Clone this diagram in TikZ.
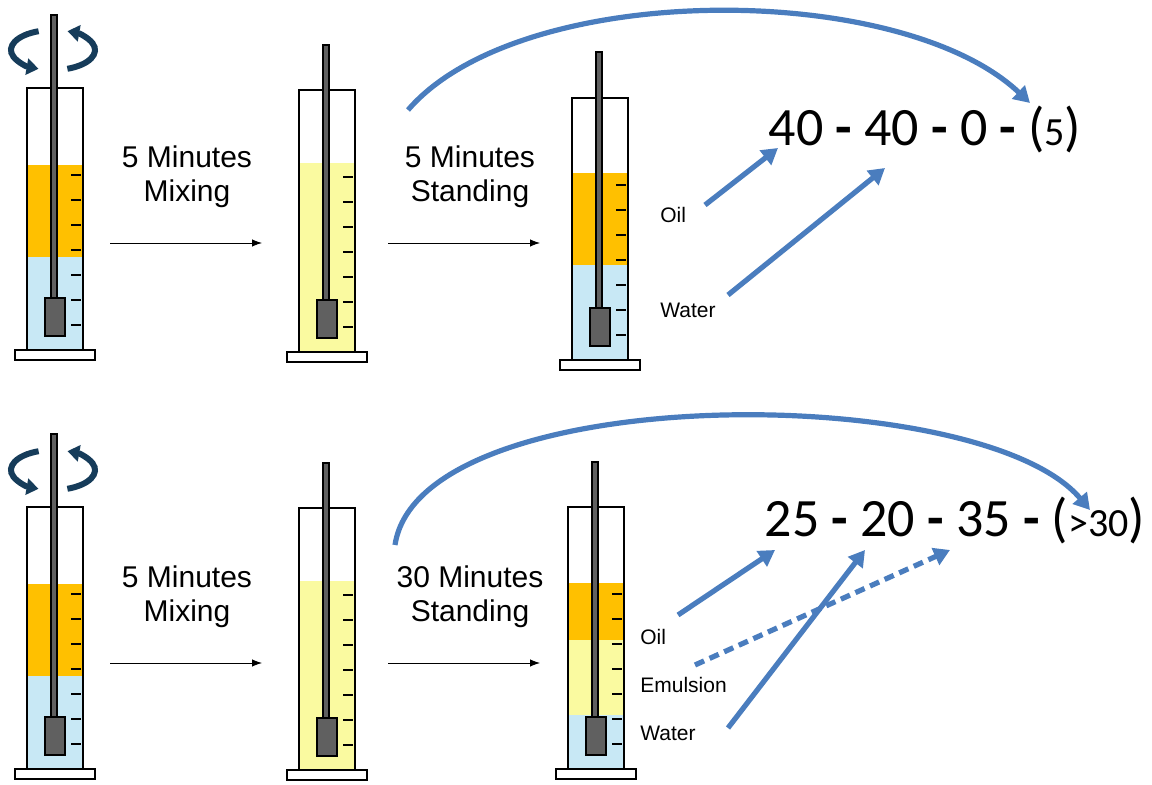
\documentclass[tikz,border=0pt]{standalone}
\usepackage{fontspec}
\setmainfont{Liberation Sans}
\newfontfamily\numfont{Carlito}
\usetikzlibrary{arrows.meta, positioning}
\definecolor{oilc}{RGB}{255,192,0}
\definecolor{emuc}{RGB}{250,250,160}
\definecolor{watc}{RGB}{200,232,245}
\definecolor{bluec}{RGB}{74,125,190}
\definecolor{spinc}{RGB}{22,60,90}
% cylinder: shift, rod top (local), fills
\newcommand{\cylinder}[3]{%
  \begin{scope}[shift={#1}, semithick]
    #3
    \draw (0,0) rectangle (56,262);
    \draw[fill=white] (-12,262) rectangle (68,272);
    \foreach \t in {87,112,137,162,187,212,237} \draw (44,\t) -- (54,\t);
    \draw[fill=gray!75!black] (24,#2) rectangle (30,212);
    \draw[fill=gray!75!black] (18,210) rectangle (38,248);
  \end{scope}}
\begin{document}
\begin{tikzpicture}
  [x=0.5pt, y=-0.5pt,
    stage/.style={align=center, font=\fontsize{15}{17}\selectfont},
    layer/.style={font=\fontsize{10.5}{12}\selectfont, anchor=west, inner sep=1pt},
    result/.style={font=\numfont\fontsize{27}{30}\selectfont},
    flow/.style={-{Latex[length=5pt]}, thin},
    link/.style={bluec, line width=2.6pt, -{Triangle[width=9pt,length=8pt]}},
    spin/.style={spinc, line width=3pt, -{Triangle[width=8pt,length=6pt]}},
  ]
  \useasboundingbox (0,0) rectangle (1152,785);

  % top row
  \cylinder{(27,88)}{-73}{\fill[oilc] (0,77) rectangle (56,169); \fill[watc] (0,169) rectangle (56,262);}
  \cylinder{(299,90)}{-45}{\fill[emuc] (0,73) rectangle (56,262);}
  \cylinder{(572,98)}{-46}{\fill[oilc] (0,75) rectangle (56,167); \fill[watc] (0,167) rectangle (56,262);}
  % bottom row
  \cylinder{(27,507)}{-73}{\fill[oilc] (0,77) rectangle (56,169); \fill[watc] (0,169) rectangle (56,262);}
  \cylinder{(299,508)}{-45}{\fill[emuc] (0,73) rectangle (56,262);}
  \cylinder{(568,507)}{-45}{\fill[oilc] (0,76) rectangle (56,133); \fill[emuc] (0,133) rectangle (56,208); \fill[watc] (0,208) rectangle (56,262);}

  % spin marks
  \foreach \y in {50,470} {
    \draw[spin] (38.6,\y-18.8) arc[start angle=-110, end angle=-250, x radius=42, y radius=20];
    \draw[spin] (67.4,\y+18.8) arc[start angle=70, end angle=-70, x radius=42, y radius=20];
  }

  % stages
  \node[stage] (mixA) at (187,177) {5 Minutes\\Mixing};
  \coordinate (mixAs) at (110,243); \coordinate (mixAe) at (262,243);
  \draw[flow] (mixAs) -- (mixAe);
  \node[stage] (standA) at (470,177) {5 Minutes\\Standing};
  \coordinate (standAs) at (388,243); \coordinate (standAe) at (540,243);
  \draw[flow] (standAs) -- (standAe);

  \node[stage] (mixB) at (187,597) {5 Minutes\\Mixing};
  \coordinate (mixBs) at (110,663); \coordinate (mixBe) at (262,663);
  \draw[flow] (mixBs) -- (mixBe);
  \node[stage] (standB) at (470,597) {30 Minutes\\Standing};
  \coordinate (standBs) at (388,663); \coordinate (standBe) at (540,663);
  \draw[flow] (standBs) -- (standBe);

  % layer labels
  \node[layer] (oilA) at (658,215) {Oil};
  \node[layer] (waterA) at (658,310) {Water};
  \node[layer] (oilB) at (638,637) {Oil};
  \node[layer] (emuB) at (638,685) {Emulsion};
  \node[layer] (waterB) at (638,733) {Water};

  % results
  \node[result] (resA) at (925,130) {40 \textbf{-} 40 \textbf{-} 0 \textbf{-} ({\fontsize{20}{22}\selectfont 5})};
  \node[result] (resB) at (955,520) {25 \textbf{-} 20 \textbf{-} 35 \textbf{-} ({\fontsize{20}{22}\selectfont >30})};

  \coordinate (tA) at (408,110);
  \coordinate (tB) at (395,545);
  \draw[link] (tA) .. controls (520,-20) and (900,-20) .. (1030,103);
  \draw[link] (tB) .. controls (420,380) and (980,380) .. (1090,510);
  \coordinate (oA) at (705,205); \coordinate (oAe) at (778,148);
  \coordinate (wA) at (728,295); \coordinate (wAe) at (885,168);
  \draw[link] (oA) -- (oAe);
  \draw[link] (wA) -- (wAe);
  \coordinate (oB) at (678,615); \coordinate (oBe) at (775,550);
  \coordinate (eB) at (695,665); \coordinate (eBe) at (950,550);
  \coordinate (wB) at (728,728); \coordinate (wBe) at (865,550);
  \draw[link] (oB) -- (oBe);
  \draw[link, dash pattern=on 5pt off 3pt] (eB) -- (eBe);
  \draw[link] (wB) -- (wBe);
\end{tikzpicture}
\end{document}
